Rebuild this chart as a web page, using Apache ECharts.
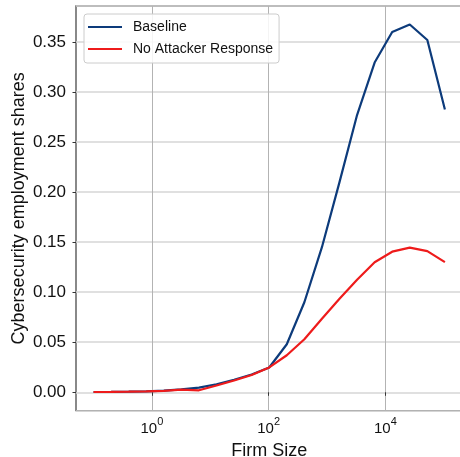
<!DOCTYPE html>
<html>
<head>
<meta charset="utf-8">
<script src="https://cdn.jsdelivr.net/npm/echarts@6/dist/echarts.min.js"></script>
<style>
  html, body { margin: 0; padding: 0; background: #fff; }
  #chart { width: 460px; height: 457px; }
</style>
</head>
<body>
<div id="chart"></div>
<script>
// Firm size grid (doubling from 0.1 employees)
const firmSizes = [0.1, 0.2, 0.4, 0.8, 1.6, 3.2, 6.4, 12.8, 25.6, 51.2, 102.4,
  204.8, 409.6, 819.2, 1638.4, 3276.8, 6553.6, 13107.2, 26214.4, 52428.8, 104857.6];

// Cybersecurity employment shares by firm size
const baseline = [0.0003, 0.0004, 0.0006, 0.0010, 0.0016, 0.0030, 0.0046, 0.0080,
  0.0125, 0.0178, 0.0248, 0.0480, 0.0900, 0.1450, 0.2100, 0.2770, 0.3295,
  0.3600, 0.3675, 0.3520, 0.2825];
const noAttackerResponse = [0.0003, 0.0004, 0.0006, 0.0010, 0.0015, 0.0026, 0.0020, 0.0068,
  0.0118, 0.0172, 0.0248, 0.0370, 0.0530, 0.0735, 0.0935, 0.1125, 0.1300,
  0.1405, 0.1445, 0.1410, 0.1300];

// Labelled decades on the firm-size axis
const xTickValues = [1, 100, 10000];

const seriesNames = ['Baseline', 'No Attacker Response'];
const seriesColors = ['#0d3b7b', '#ee1b1b'];

const FONT = 'Liberation Sans';

function pairs(xs, ys) {
  return xs.map((x, i) => [x, ys[i]]);
}

const chart = echarts.init(document.getElementById('chart'), null, { renderer: 'canvas' });

chart.setOption({
  animation: false,
  backgroundColor: '#ffffff',
  textStyle: { fontFamily: FONT, color: '#111' },
  grid: {
    left: 76, top: 6, width: 386.5, height: 404.7,
    show: true, borderColor: '#4a4a4a', borderWidth: 1.3,
    containLabel: false,
    outerBoundsMode: 'none'
  },
  legend: {
    orient: 'vertical',
    left: 84, top: 14,
    padding: [5, 6, 6, 4],
    icon: 'rect',
    itemWidth: 34, itemHeight: 2.2, itemGap: 6,
    backgroundColor: 'rgba(255,255,255,0.85)',
    borderColor: '#cccccc', borderWidth: 1, borderRadius: 3,
    textStyle: { fontFamily: FONT, fontSize: 14, color: '#111', lineHeight: 16, padding: [0, 0, 0, 6] },
    data: seriesNames
  },
  xAxis: {
    type: 'log',
    logBase: 10,
    min: 0.05,
    max: 210000,
    name: 'Firm Size',
    nameLocation: 'middle',
    nameGap: 31,
    nameMoveOverlap: false,
    nameTextStyle: { fontFamily: FONT, fontSize: 18, color: '#111' },
    axisLine: { show: false },
    axisTick: {
      show: true, inside: false, length: 3.5,
      customValues: xTickValues,
      lineStyle: { color: '#333', width: 1 }
    },
    axisLabel: {
      margin: 6,
      customValues: xTickValues,
      formatter: function (v) {
        const e = Math.round(Math.log10(v));
        return '{b|10}{s|' + e + '}';
      },
      rich: {
        b: { fontFamily: FONT, fontSize: 15, color: '#111', lineHeight: 20, verticalAlign: 'bottom' },
        s: { fontFamily: FONT, fontSize: 11, color: '#111', lineHeight: 20, verticalAlign: 'top' }
      }
    },
    splitLine: { show: true, lineStyle: { color: '#b3b3b3', width: 1 } }
  },
  yAxis: {
    type: 'value',
    min: -0.0184,
    max: 0.386,
    splitNumber: 8,
    name: 'Cybersecurity employment shares',
    nameLocation: 'middle',
    nameGap: 48,
    nameMoveOverlap: false,
    nameTextStyle: { fontFamily: FONT, fontSize: 18, color: '#111' },
    axisLine: { show: false },
    axisTick: { show: true, inside: false, length: 3.5, lineStyle: { color: '#333', width: 1 } },
    axisLabel: {
      margin: 10,
      showMinLabel: false,
      showMaxLabel: false,
      fontFamily: FONT, fontSize: 17, color: '#111',
      formatter: v => v.toFixed(2)
    },
    splitLine: { show: true, lineStyle: { color: '#d6d6d6', width: 1.6 } }
  },
  series: [
    {
      name: seriesNames[0],
      type: 'line',
      symbol: 'none',
      data: pairs(firmSizes, baseline),
      lineStyle: { color: seriesColors[0], width: 2.2 },
      itemStyle: { color: seriesColors[0] },
      z: 3
    },
    {
      name: seriesNames[1],
      type: 'line',
      symbol: 'none',
      data: pairs(firmSizes, noAttackerResponse),
      lineStyle: { color: seriesColors[1], width: 2.2 },
      itemStyle: { color: seriesColors[1] },
      z: 4
    }
  ]
});
</script>
</body>
</html>
